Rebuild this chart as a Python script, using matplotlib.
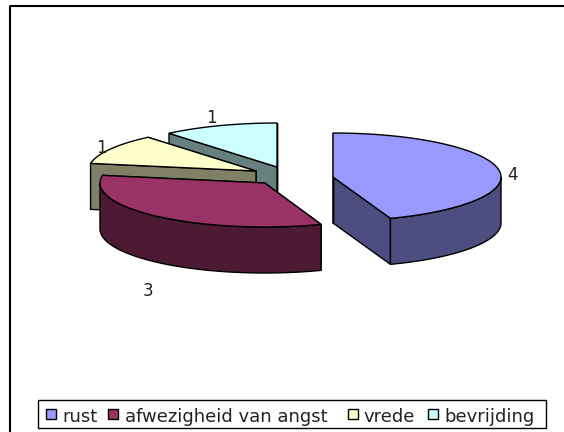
import numpy as np
import matplotlib
matplotlib.use('Agg')
import matplotlib.pyplot as plt
from matplotlib.patches import Polygon, Rectangle


categories = ['rust', 'afwezigheid van angst', 'vrede', 'bevrijding']
values = [4, 3, 1, 1]
top_colors = ['#9999FF', '#993366', '#FFFFCC', '#CCFFFF']
side_colors = ['#4D4D80', '#4D1A33', '#808066', '#668080']

# exploded slice centres, in image pixels
CENTERS = [(333, 177), (264.7, 183), (256, 171), (277, 167)]
RADII_X = [168, 164.7, 168, 168]
LABEL_POS = [(512, 175), (148, 291), (101, 148), (211, 118)]
RY = 44
DEPTH = 46
LEGEND_SWATCH_X = [46, 108, 348, 428]
LEGEND_TEXT_X = [62, 125, 363, 444]


def rim(center, rx, a0, a1, n=80):
    # angles run clockwise from twelve o'clock
    t = np.radians(np.linspace(a0, a1, n))
    return np.column_stack((center[0] + rx*np.sin(t), center[1] - RY*np.cos(t)))


def drop(points):
    return points + np.array([0, DEPTH])


def draw_slice(ax, center, rx, a0, a1, top, side):
    c = np.array([center], dtype=float)
    arc = rim(center, rx, a0, a1)

    # flat cut faces, the far one first
    for edge in (a1, a0):
        tip = rim(center, rx, edge, edge, 1)
        face = np.vstack((c, tip, drop(tip), drop(c)))
        ax.add_patch(Polygon(face, closed=True, fc=side, ec='black', lw=1.0))

    # round outer wall, only the part that faces the viewer
    lo, hi = max(a0, 90), min(a1, 270)
    if lo < hi:
        front = rim(center, rx, lo, hi)
        wall = np.vstack((front, drop(front)[::-1]))
        ax.add_patch(Polygon(wall, closed=True, fc=side, ec='black', lw=1.0))

    ax.add_patch(Polygon(np.vstack((c, arc)), closed=True, fc=top, ec='black', lw=1.0))


fig = plt.figure(figsize=(5.64, 4.32), dpi=100)
ax = fig.add_axes([0, 0, 1, 1])
ax.set_xlim(0, 564)
ax.set_ylim(432, 0)
ax.axis('off')

# outer chart frame, only left and top show up
ax.plot([10, 10, 564], [432, 6, 6], color='black', lw=1.5, solid_capstyle='butt')

# slice angles come from the values
edges = np.concatenate(([0], np.cumsum(values))) / sum(values) * 360
spans = [(edges[i], edges[i+1]) for i in range(len(values))]

# back slices first so the front ones cover them
for i in [3, 2, 1, 0]:
    draw_slice(ax, CENTERS[i], RADII_X[i], spans[i][0], spans[i][1], top_colors[i], side_colors[i])

for pos, val in zip(LABEL_POS, values):
    ax.text(pos[0], pos[1], str(val), fontsize=12, ha='center', va='center',
            color='#222222', family='DejaVu Sans')

# hand placed legend box like the spreadsheet one
ax.add_patch(Rectangle((38, 399.5), 508, 28.5, fc='white', ec='black', lw=1))
for i, name in enumerate(categories):
    ax.add_patch(Rectangle((LEGEND_SWATCH_X[i], 409), 10, 10, fc=top_colors[i], ec='black', lw=1))
    ax.text(LEGEND_TEXT_X[i], 421.5, name, fontsize=13, ha='left', va='baseline',
            color='#222222', family='DejaVu Sans')

fig.savefig('out.png', dpi=100)
